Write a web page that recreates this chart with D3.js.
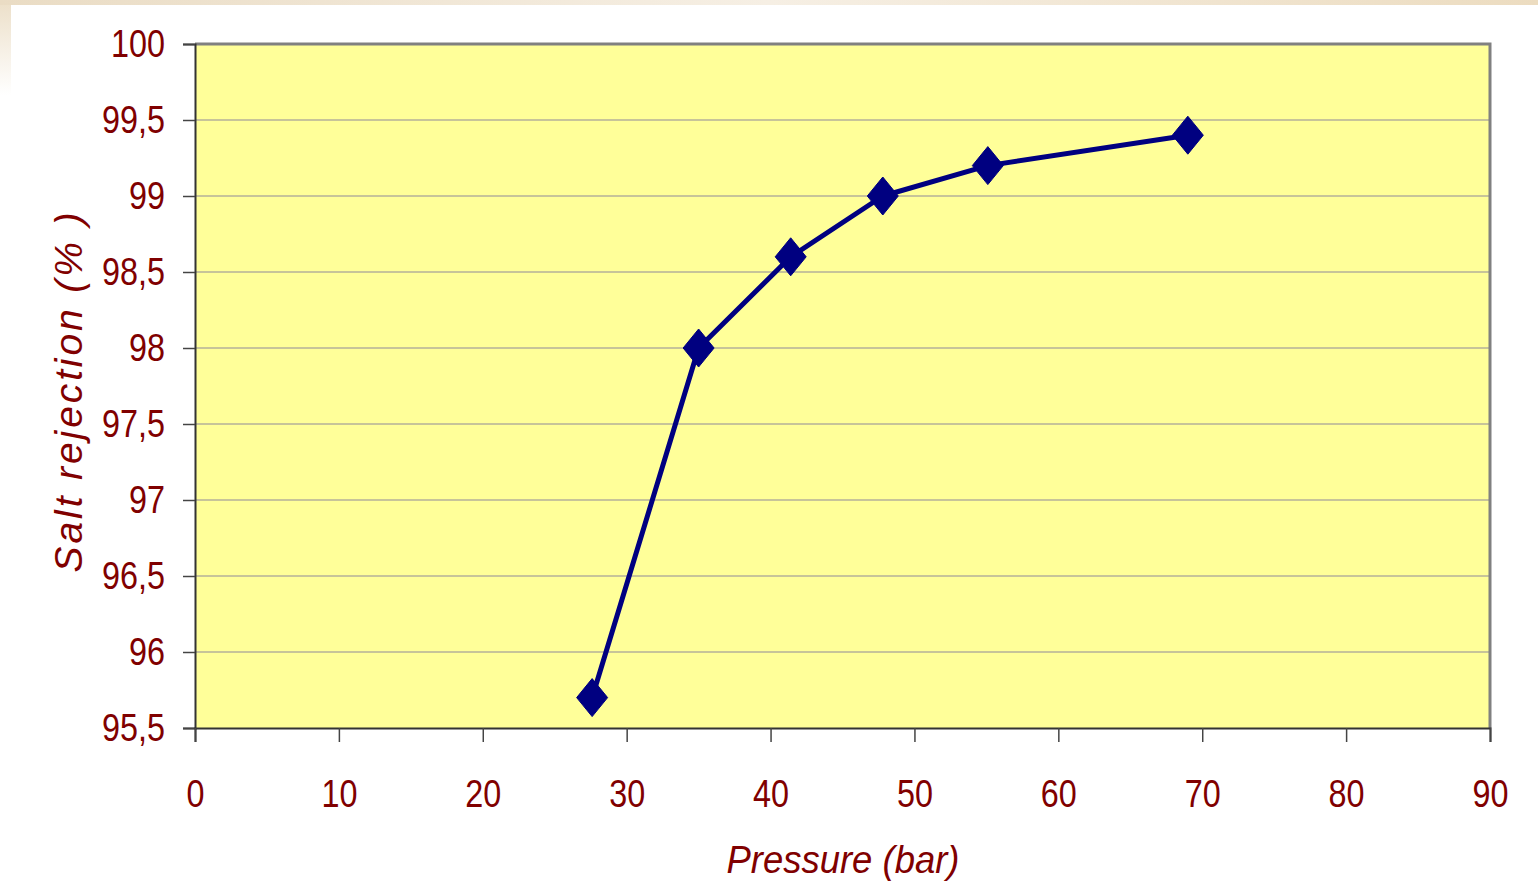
<!DOCTYPE html>
<html>
<head>
<meta charset="utf-8">
<script src="https://cdn.jsdelivr.net/npm/d3@7"></script>
<style>
  html, body { margin: 0; padding: 0; background: #ffffff; }
  svg { display: block; }
  .tick-label { font-family: "Liberation Sans", Arial, sans-serif; fill: #800000; }
</style>
</head>
<body>
<script>
// Salt rejection measured at increasing feed pressure
const pressure = [27.6, 35.0, 41.4, 47.8, 55.1, 69.0];
const rejection = [95.7, 98.0, 98.6, 99.0, 99.2, 99.4];
const xTicks = [0, 10, 20, 30, 40, 50, 60, 70, 80, 90];
const yTicks = [95.5, 96, 96.5, 97, 97.5, 98, 98.5, 99, 99.5, 100];
const xTitle = "Pressure (bar)";
const yTitle = "Salt rejection (% )";

const W = 1538, H = 888;
const plot = { left: 195, top: 44, right: 1490, bottom: 728 };
const narrow = 0.83; // horizontal squeeze for the narrow tick-label face

const svg = d3.select("body").append("svg").attr("width", W).attr("height", H);
const defs = svg.append("defs");

// soft beige frame around the slide corner
const gTop = defs.append("linearGradient").attr("id", "gTop").attr("x1", 0).attr("x2", 1).attr("y1", 0).attr("y2", 0);
gTop.append("stop").attr("offset", 0).attr("stop-color", "#eadcc4");
gTop.append("stop").attr("offset", 0.5).attr("stop-color", "#f6efe4");
gTop.append("stop").attr("offset", 1).attr("stop-color", "#ecdcc0");
const gLeft = defs.append("linearGradient").attr("id", "gLeft").attr("x1", 0).attr("x2", 0).attr("y1", 0).attr("y2", 1);
gLeft.append("stop").attr("offset", 0).attr("stop-color", "#ecdfc8");
gLeft.append("stop").attr("offset", 1).attr("stop-color", "#ffffff");
svg.append("rect").attr("x", 0).attr("y", 0).attr("width", 11).attr("height", 95).attr("fill", "url(#gLeft)");
svg.append("rect").attr("x", 0).attr("y", 0).attr("width", W).attr("height", 5).attr("fill", "url(#gTop)");

const x = d3.scaleLinear().domain([0, 90]).range([plot.left, plot.right]);
const y = d3.scaleLinear().domain([95.5, 100]).range([plot.bottom, plot.top]);

// plot background
svg.append("rect")
  .attr("x", plot.left).attr("y", plot.top)
  .attr("width", plot.right - plot.left).attr("height", plot.bottom - plot.top)
  .attr("fill", "#ffff99");

// horizontal gridlines
svg.append("g").selectAll("line").data(yTicks.filter(d => d > 95.5 && d < 100)).join("line")
  .attr("x1", plot.left).attr("x2", plot.right)
  .attr("y1", d => y(d)).attr("y2", d => y(d))
  .attr("stroke", "#b4b09a").attr("stroke-width", 1.5);

// plot frame (top and right)
svg.append("path")
  .attr("d", `M${plot.left},${plot.top}H${plot.right}V${plot.bottom}`)
  .attr("fill", "none").attr("stroke", "#808080").attr("stroke-width", 3);

const fmt = d => String(d).replace(".", ",");

// y axis
const yAxis = svg.append("g").attr("transform", `translate(${plot.left},0)`)
  .call(d3.axisLeft(y).tickValues(yTicks).tickSize(12).tickPadding(16).tickFormat(fmt));
yAxis.select(".domain").attr("stroke", "#333333").attr("stroke-width", 2);
yAxis.selectAll(".tick line").attr("stroke", "#444444").attr("stroke-width", 1.5);
yAxis.selectAll(".tick text")
  .attr("class", "tick-label").attr("font-size", 39)
  .attr("x", 0).attr("dy", "0.33em")
  .attr("transform", `translate(-30,0) scale(${narrow},1)`);

// x axis
const xAxis = svg.append("g").attr("transform", `translate(0,${plot.bottom})`)
  .call(d3.axisBottom(x).tickValues(xTicks).tickSize(14).tickPadding(36).tickFormat(d3.format("d")));
xAxis.select(".domain").attr("stroke", "#333333").attr("stroke-width", 2);
xAxis.selectAll(".tick line").attr("stroke", "#444444").attr("stroke-width", 1.5);
xAxis.selectAll(".tick text")
  .attr("class", "tick-label").attr("font-size", 39)
  .attr("y", 79).attr("dy", "0")
  .attr("transform", `scale(${narrow},1)`);

// axis titles
svg.append("text")
  .attr("transform", `translate(843,873) scale(0.935,1)`)
  .attr("text-anchor", "middle")
  .attr("font-family", "'Liberation Sans', Arial, sans-serif")
  .attr("font-style", "italic").attr("font-size", 39).attr("fill", "#800000")
  .text(xTitle);

svg.append("text")
  .attr("transform", `translate(82,391) rotate(-90)`)
  .attr("text-anchor", "middle")
  .attr("font-family", "'Liberation Sans', Arial, sans-serif")
  .attr("font-style", "italic").attr("font-size", 39).attr("fill", "#800000")
  .attr("letter-spacing", 2.9)
  .text(yTitle);

// series line
const pts = pressure.map((p, i) => [p, rejection[i]]);
svg.append("path")
  .datum(pts)
  .attr("d", d3.line().x(d => x(d[0])).y(d => y(d[1])))
  .attr("fill", "none").attr("stroke", "#000080").attr("stroke-width", 5)
  .attr("stroke-linejoin", "round");

// diamond markers
const hw = 15.5, hh = 19;
svg.append("g").selectAll("path").data(pts).join("path")
  .attr("transform", d => `translate(${x(d[0])},${y(d[1])})`)
  .attr("d", `M0,${-hh}L${hw},0L0,${hh}L${-hw},0Z`)
  .attr("fill", "#000080").attr("stroke", "#000080").attr("stroke-width", 1).attr("stroke-linejoin", "round");
</script>
</body>
</html>
